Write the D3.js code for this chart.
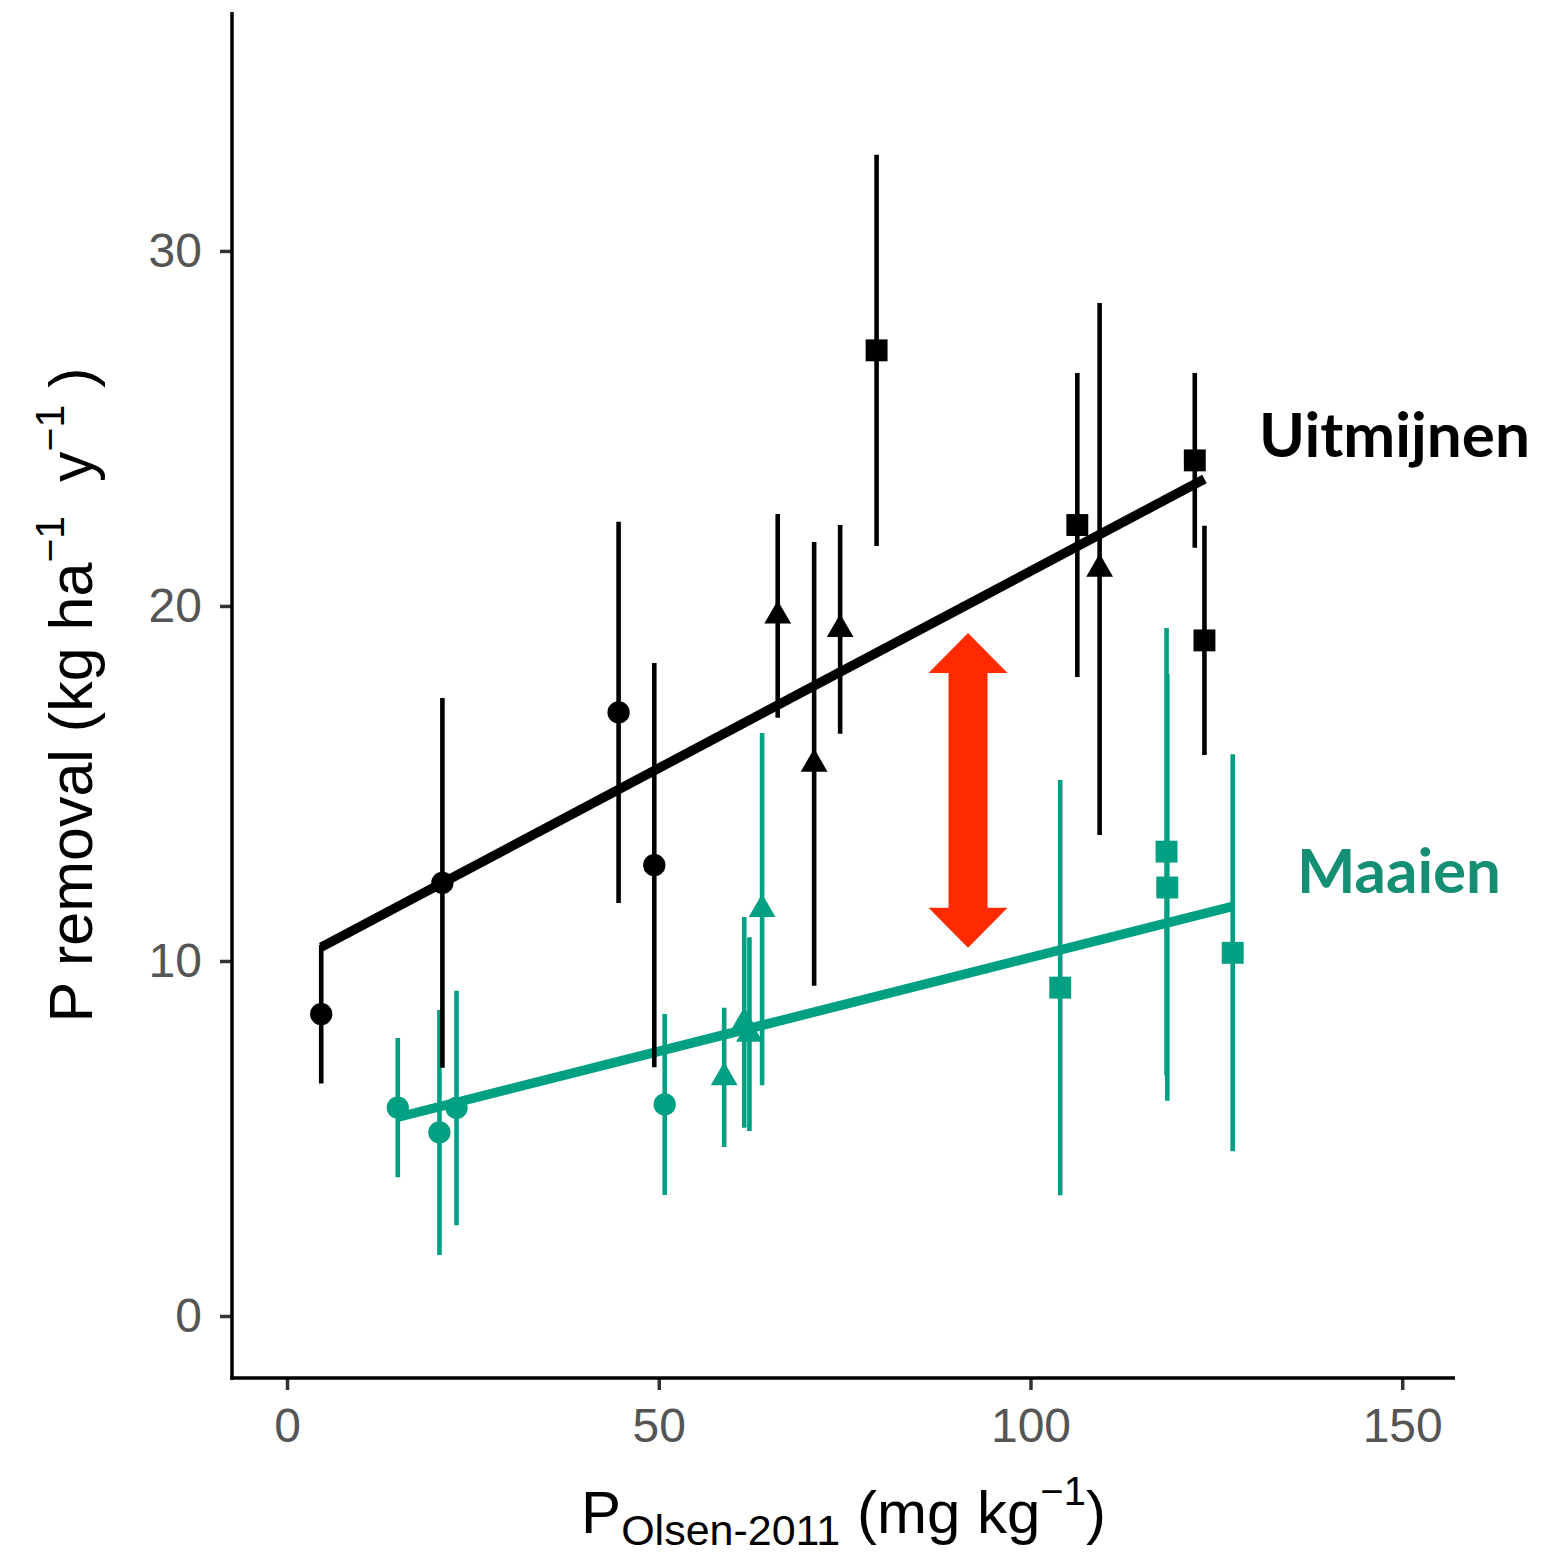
<!DOCTYPE html>
<html>
<head>
<meta charset="utf-8">
<script src="https://cdn.jsdelivr.net/npm/d3@7"></script>
<style>
  html, body { margin: 0; padding: 0; background: #ffffff; }
  svg { display: block; }
</style>
</head>
<body>
<svg id="chart" width="1547" height="1556"></svg>
<script>
// P removal against Olsen-P (2011), per treatment: mean ± error per plot
const seriesNames = ["Uitmijnen", "Maaien"];

// Uitmijnen (mining)
const uitX     = [4.6, 20.9, 44.6, 49.4, 66.0, 70.9, 74.4, 79.3, 106.3, 109.3, 122.1, 123.4];
const uitY     = [8.5, 12.2, 17.0, 12.7, 19.72, 15.55, 19.34, 27.2, 22.28, 21.04, 24.1, 19.03];
const uitErr   = [1.95, 5.21, 5.37, 5.69, 2.87, 6.25, 2.94, 5.51, 4.28, 7.49, 2.46, 3.23];
const uitShape = ["circle", "circle", "circle", "circle", "triangle", "triangle", "triangle",
                  "square", "square", "triangle", "square", "square"];

// Maaien (mowing)
const maaX     = [14.9, 20.5, 22.8, 50.8, 58.8, 61.5, 62.2, 63.9, 104.0, 118.3, 118.4, 127.2];
const maaY     = [5.87, 5.17, 5.86, 5.96, 6.72, 8.27, 7.94, 11.46, 9.25, 13.08, 12.07, 10.23];
const maaErr   = [1.96, 3.45, 3.30, 2.55, 1.96, 2.97, 2.73, 4.96, 5.85, 6.30, 6.01, 5.59];
const maaShape = ["circle", "circle", "circle", "circle", "triangle", "triangle", "triangle", "triangle",
                  "square", "square", "square", "square"];

// Linear fits: [intercept, slope]
const uitFit = [9.88, 0.111];
const maaFit = [4.81, 0.0529];

// Axis ticks
const xTicks = [0, 50, 100, 150];
const yTicks = [0, 10, 20, 30];

// Difference arrow between the two fits (x position, y from, y to)
const arrowX = 91.6;
const arrowY = [10.37, 19.24];

const colUit = "#000000";
const colMaa = "#00A083";
const colMaaLabel = "#148F74";
const colArrow = "#FF2A00";

const svg = d3.select("#chart");

const panel = { left: 232, right: 1455, top: 12, bottom: 1378 };
const x = d3.scaleLinear().domain([-7.4, 157.1]).range([panel.left, panel.right]);
const y = d3.scaleLinear().domain([-1.746, 36.73]).range([panel.bottom, panel.top]);

const symbolTypes = { circle: d3.symbolCircle, square: d3.symbolSquare, triangle: d3.symbolTriangle };
const symbolSizes = { circle: 390, square: 480, triangle: 310 };

function drawSeries(xs, ys, errs, shapes, fit, colour) {
  const g = svg.append("g");
  const data = xs.map((v, i) => ({ x: v, y: ys[i], e: errs[i], s: shapes[i] }));

  g.selectAll("line.err").data(data).join("line")
    .attr("class", "err")
    .attr("x1", d => x(d.x)).attr("x2", d => x(d.x))
    .attr("y1", d => y(d.y - d.e)).attr("y2", d => y(d.y + d.e))
    .attr("stroke", colour).attr("stroke-width", 4.6);

  g.selectAll("path.pt").data(data).join("path")
    .attr("class", "pt")
    .attr("transform", d => `translate(${x(d.x)},${y(d.y)})`)
    .attr("d", d => d3.symbol().type(symbolTypes[d.s]).size(symbolSizes[d.s])())
    .attr("fill", colour);

  const [x0, x1] = d3.extent(xs);
  const line = d3.line().x(d => x(d)).y(d => y(fit[0] + fit[1] * d));
  g.append("path")
    .attr("d", line([x0, x1]))
    .attr("fill", "none")
    .attr("stroke", colour)
    .attr("stroke-width", 9.5)
    .attr("stroke-linecap", "butt");
}

drawSeries(maaX, maaY, maaErr, maaShape, maaFit, colMaa);
drawSeries(uitX, uitY, uitErr, uitShape, uitFit, colUit);

// Double-headed arrow
{
  const cx = x(arrowX), yTop = y(arrowY[1]), yBot = y(arrowY[0]);
  const hw = 39.5, hl = 40, sw = 19.5;
  const pts = [
    [cx, yTop], [cx + hw, yTop + hl], [cx + sw, yTop + hl], [cx + sw, yBot - hl],
    [cx + hw, yBot - hl], [cx, yBot], [cx - hw, yBot - hl], [cx - sw, yBot - hl],
    [cx - sw, yTop + hl], [cx - hw, yTop + hl]
  ];
  svg.append("path")
    .attr("d", "M" + pts.map(p => p.join(",")).join("L") + "Z")
    .attr("fill", colArrow);
}

// Axes
const axisFont = "'Liberation Sans', Arial, Helvetica, sans-serif";

const yAxis = svg.append("g")
  .attr("transform", `translate(${panel.left},0)`)
  .call(d3.axisLeft(y).tickValues(yTicks).tickSize(12).tickPadding(18).tickFormat(d3.format("d")));
const xAxis = svg.append("g")
  .attr("transform", `translate(0,${panel.bottom})`)
  .call(d3.axisBottom(x).tickValues(xTicks).tickSize(12).tickPadding(18).tickFormat(d3.format("d")));

[xAxis, yAxis].forEach(a => {
  a.select(".domain").remove();
  a.selectAll(".tick line").attr("stroke", "#333333").attr("stroke-width", 3.5);
  a.selectAll(".tick text")
    .attr("fill", "#555555")
    .style("font-family", axisFont)
    .style("font-size", "48px");
});

svg.append("line")
  .attr("x1", panel.left).attr("x2", panel.left)
  .attr("y1", panel.top).attr("y2", panel.bottom + 1.75)
  .attr("stroke", "#000").attr("stroke-width", 3.5);
svg.append("line")
  .attr("x1", panel.left - 1.75).attr("x2", panel.right)
  .attr("y1", panel.bottom).attr("y2", panel.bottom)
  .attr("stroke", "#000").attr("stroke-width", 3.5);

// Axis titles
const xTitle = svg.append("text")
  .attr("x", (panel.left + panel.right) / 2)
  .attr("y", 1533)
  .attr("text-anchor", "middle")
  .attr("fill", "#000")
  .style("white-space", "pre")
  .style("font-family", axisFont)
  .style("font-size", "60px");
xTitle.append("tspan").text("P");
xTitle.append("tspan").attr("font-size", "43px").attr("dy", 12).text("Olsen-2011");
xTitle.append("tspan").attr("dy", -12).text(" (mg kg");
xTitle.append("tspan").attr("font-size", "40px").attr("dy", -28).text("−1");
xTitle.append("tspan").attr("dy", 28).text(")");

const yTitle = svg.append("text")
  .attr("transform", `translate(92,${(panel.top + panel.bottom) / 2}) rotate(-90)`)
  .attr("text-anchor", "middle")
  .attr("fill", "#000")
  .style("white-space", "pre")
  .style("font-family", axisFont)
  .style("font-size", "61px");
yTitle.append("tspan").text("P removal (kg ha");
yTitle.append("tspan").attr("font-size", "41px").attr("dy", -28).text("−1");
yTitle.append("tspan").attr("dy", 28).text("  y");
yTitle.append("tspan").attr("font-size", "41px").attr("dy", -28).text("−1");
yTitle.append("tspan").attr("dy", 28).text(" )");

// Series labels at the end of each fit line
const labelFont = "Lato, 'Open Sans', sans-serif";
function seriesLabel(text, lx, ly, colour, width) {
  const t = svg.append("text")
    .attr("x", lx).attr("y", ly)
    .attr("fill", colour)
    .style("font-family", labelFont)
    .style("font-weight", 700)
    .style("font-size", "60px")
    .text(text);
  const w = t.node().getComputedTextLength();
  t.style("font-size", (60 * width / w).toFixed(2) + "px");
}
seriesLabel(seriesNames[0], 1259, 457, colUit, 271);
seriesLabel(seriesNames[1], 1297, 893, colMaaLabel, 204);
</script>
</body>
</html>
